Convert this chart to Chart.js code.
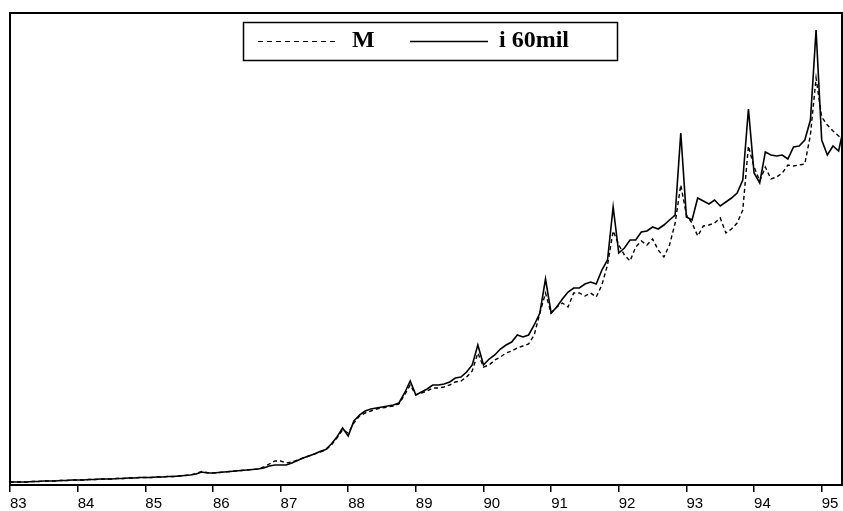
<!DOCTYPE html>
<html>
<head>
<meta charset="utf-8">
<script src="https://cdn.jsdelivr.net/npm/chart.js@4"></script>
<style>
  html, body { margin: 0; padding: 0; background: #fff; }
  #wrap { width: 843px; height: 511px; }
</style>
</head>
<body>
<div id="wrap"><canvas id="chart" width="843" height="511"></canvas></div>
<script>
// year tick labels, one per January (every 12 months from Jan 83)
const yearLabels = ["83", "84", "85", "86", "87", "88", "89", "90", "91", "92", "93", "94", "95"];

// monthly values, Jan 83 .. May 95 (no y scale in the original, arbitrary units)
const seriesM = [
  3, 3, 3, 3, 3.5, 3.5, 4, 4, 4, 4.5, 4.5, 5,
  5, 5, 5.5, 5.5, 6, 6, 6, 6.5, 6.5, 7, 7, 7.5,
  7.5, 7.5, 8, 8, 8.5, 8.5, 9, 9.5, 10, 11.5, 13.5, 12.5,
  12, 12.5, 13, 13.5, 14, 14.5, 15, 15.5, 16, 18, 21, 24,
  24, 22, 23, 25, 27, 29, 31, 33, 35, 40, 47, 55,
  52, 62, 69, 72, 74, 76, 77, 78, 79, 81, 90, 100,
  90, 92, 94, 97, 97, 98, 100, 103, 104, 108, 114, 132,
  118, 120, 125, 128, 132, 134, 137, 139, 141, 150, 172, 192,
  172, 178, 182, 178, 192, 192, 189, 192, 188, 200, 220, 254,
  240, 230, 224, 238, 244, 240, 246, 235, 228, 240, 262, 300,
  270, 262, 249, 259, 260, 262, 267, 252, 256, 262, 275, 339,
  318, 304, 318, 306, 308, 312, 320, 319, 320, 321, 350, 407,
  368, 360, 354, 349, 346
];

const series60mil = [
  3, 3, 3, 3, 3.5, 3.5, 4, 4, 4, 4.5, 4.5, 5,
  5, 5, 5.5, 5.5, 6, 6, 6, 6.5, 6.5, 7, 7, 7.5,
  7.5, 7.5, 8, 8, 8.5, 8.5, 9, 9.5, 10, 11, 13, 12,
  12, 12.5, 13, 13.5, 14, 14.5, 15, 15.5, 16, 17, 19, 20,
  20, 20, 22, 24.5, 27, 29, 31, 33.5, 35.5, 41, 48, 57,
  49, 64, 70, 74, 76, 77, 78, 79, 80, 82, 92, 104,
  90, 93, 96, 100, 100, 101, 103, 107, 108, 113, 120, 140,
  120, 126, 130, 136, 140, 143, 150, 148, 150, 160, 172, 206,
  172, 178, 186, 193, 197, 197, 201, 203, 201, 215, 225, 278,
  232, 237, 245, 245, 253, 254, 258, 256, 260, 265, 270, 352,
  268, 265, 287, 284, 281, 285, 279, 283, 287, 292, 305, 376,
  312, 302, 333, 330, 329, 330, 326, 338, 339, 345, 365, 455,
  345, 330, 339, 334, 360
];

const toPoints = (arr) => arr.map((v, i) => ({ x: i, y: v }));

// frame round the plot and the boxed legend at the top
const framePlugin = {
  id: "frame",
  afterDraw(chart) {
    const { ctx, chartArea: a } = chart;
    ctx.save();
    ctx.strokeStyle = "#000";
    ctx.lineWidth = 2;
    ctx.strokeRect(a.left, a.top, a.right - a.left, a.bottom - a.top);

    // legend box
    ctx.lineWidth = 1.5;
    ctx.strokeRect(243.5, 22.5, 374, 38);
    const ds = chart.data.datasets;
    ctx.font = "bold 24px 'Liberation Serif', 'DejaVu Serif', serif";
    ctx.textBaseline = "middle";
    ctx.fillStyle = "#000";

    ctx.lineWidth = 1.2;
    ctx.setLineDash([5, 4]);
    ctx.beginPath();
    ctx.moveTo(258, 41.5);
    ctx.lineTo(338, 41.5);
    ctx.stroke();
    ctx.setLineDash([]);
    ctx.fillText(ds[0].label, 352, 41);

    ctx.lineWidth = 1.6;
    ctx.beginPath();
    ctx.moveTo(410, 41.5);
    ctx.lineTo(488, 41.5);
    ctx.stroke();
    ctx.fillText(ds[1].label, 499, 41);
    ctx.restore();
  }
};

new Chart(document.querySelector("#chart").getContext("2d"), {
  type: "line",
  data: {
    datasets: [
      {
        label: "M",
        data: toPoints(seriesM),
        borderColor: "#000",
        borderWidth: 1.4,
        borderDash: [4, 3],
        pointRadius: 0,
        tension: 0,
        fill: false
      },
      {
        label: "i 60mil",
        data: toPoints(series60mil),
        borderColor: "#000",
        borderWidth: 1.6,
        pointRadius: 0,
        tension: 0,
        fill: false
      }
    ]
  },
  options: {
    responsive: false,
    animation: false,
    layout: { padding: { left: 10, right: 1, top: 13, bottom: 0 } },
    plugins: { legend: { display: false }, tooltip: { enabled: false } },
    scales: {
      x: {
        type: "linear",
        min: 0,
        max: 147.6,
        afterBuildTicks(scale) {
          scale.ticks = yearLabels.map((_, k) => ({ value: k * 12 }));
        },
        afterFit(scale) {
          scale.height = 26;
        },
        ticks: {
          autoSkip: false,
          maxRotation: 0,
          align: "start",
          padding: 4,
          color: "#000",
          font: { family: "'Liberation Sans', Arial, sans-serif", size: 15, lineHeight: 1 },
          callback: (v) => yearLabels[Math.round(v / 12)]
        },
        grid: {
          drawOnChartArea: false,
          drawTicks: true,
          tickLength: 7,
          color: "#000",
          lineWidth: 1.5
        },
        border: { display: false }
      },
      y: {
        display: false,
        min: 0,
        max: 472
      }
    }
  },
  plugins: [framePlugin]
});
</script>
</body>
</html>
